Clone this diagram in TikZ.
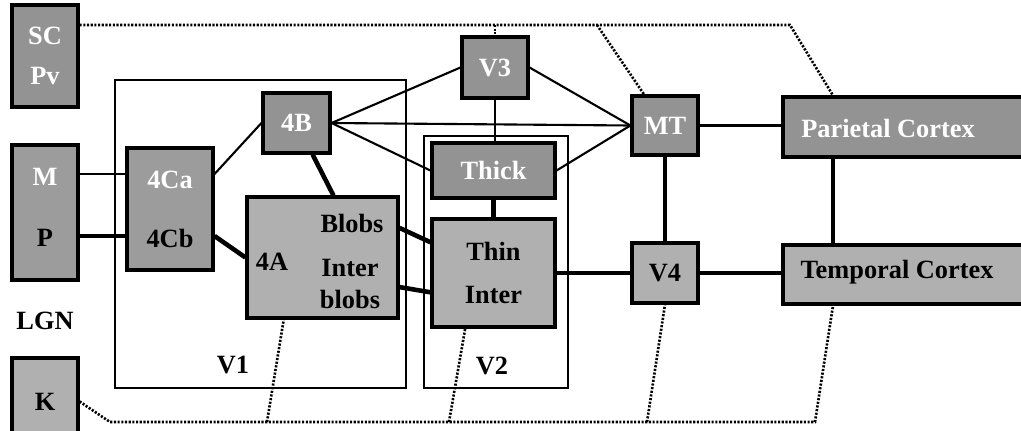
\documentclass[tikz,border=0pt]{standalone}
\usepackage{fontspec}
\setmainfont{Liberation Serif}
\usetikzlibrary{calc}

\begin{document}
\begin{tikzpicture}[x=0.02cm, y=-0.02cm,
        area/.style={rectangle, draw=black, fill=gray!85, line width=1.8pt, inner sep=0pt, text=white, align=center, font=\fontsize{15}{17}\selectfont\bfseries},
        areal/.style={area, fill=gray!62, text=black},
        lbl/.style={inner sep=0pt, font=\fontsize{15}{17}\selectfont\bfseries},
        region/.style={rectangle, draw=black, line width=0.8pt, inner sep=0pt},
        weak/.style={line width=1.2pt},
        strong/.style={line width=2.6pt},
        feedback/.style={line width=1.5pt, dash pattern=on 1.2pt off 0.9pt}
    ]
    \useasboundingbox (0,0) rectangle (1021,430);
    \clip (0,0) rectangle (1021,430);

    \node[region, minimum width=5.82cm, minimum height=6.16cm] (v1box) at (260.5,234) {};
    \node[region, minimum width=2.88cm, minimum height=5.04cm] (v2box) at (496,262) {};
    \node[lbl] (v1lbl) at (233,365) {V1};
    \node[lbl] (v2lbl) at (492,366) {V2};
    \node[lbl] (lgnlbl) at (45,321) {LGN};

    \node[area, minimum width=1.32cm, minimum height=2.04cm] (scpv) at (45,56) {SC\\[6pt]Pv};
    \node[area, fill=gray!78, minimum width=1.32cm, minimum height=2.7cm] (lgnmp) at (45,212.5) {};
    \node[lbl, text=white] (mtxt) at (45,177) {M};
    \node[lbl] (ptxt) at (45,238) {P};
    \node[areal, minimum width=1.32cm, minimum height=1.74cm] (k) at (45,401.5) {K};

    \node[area, fill=gray!78, minimum width=1.72cm, minimum height=2.44cm] (c4) at (170,209) {};
    \node[lbl, text=white] (c4a) at (170,180) {4Ca};
    \node[lbl] (c4b) at (170,238) {4Cb};
    \node[area, minimum width=1.34cm, minimum height=1.2cm] (b4) at (296.5,123) {4B};
    \node[areal, minimum width=3.02cm, minimum height=2.42cm] (a4) at (322.5,257.5) {};
    \node[lbl] (a4txt) at (272,262) {4A};
    \node[lbl] (blobs) at (352,223) {Blobs};
    \node[lbl, align=center] (interblobs) at (350,284) {Inter\\[1pt]blobs};

    \node[area, minimum width=2.46cm, minimum height=1.1cm] (thick) at (493.5,170.5) {Thick};
    \node[areal, minimum width=2.46cm, minimum height=2.16cm] (thin) at (493.5,273) {Thin\\[8pt]Inter};
    \node[area, minimum width=1.32cm, minimum height=1.22cm] (v3) at (495,67.5) {V3};
    \node[area, minimum width=1.32cm, minimum height=1.18cm] (mt) at (665,125.5) {MT};
    \node[areal, minimum width=1.32cm, minimum height=1.2cm] (v4) at (665,273) {V4};

    \node[area, minimum width=4.94cm, minimum height=1.2cm] (par) at (906.5,127) {};
    \node[lbl, text=white] (partxt) at (888,128) {Parietal Cortex};
    \node[areal, minimum width=4.94cm, minimum height=1.18cm] (tem) at (906.5,274.5) {};
    \node[lbl] (temtxt) at (897,272) {Temporal Cortex};

    \coordinate (yM) at (0,174);
    \coordinate (yP) at (0,236);
    \coordinate (pt) at (833,0);

    \draw[weak] (lgnmp.east |- yM) -- (c4.west |- yM);
    \draw[strong] (lgnmp.east |- yP) -- (c4.west |- yP);
    \draw[weak] (c4.east |- yM) -- (b4.west);
    \draw[strong] (c4.east |- yP) -- (a4.west);
    \draw[strong] (b4.-63) -- (a4.80);
    \draw[weak] (b4.east) -- (v3.west);
    \draw[weak] (b4.east) -- (mt.west);
    \draw[weak] (b4.east) -- (thick.west);
    \draw[weak] (thick.north -| v3.south) -- (v3.south);
    \draw[weak] (v3.east) -- (mt.west);
    \draw[weak] (thick.east) -- (mt.west);
    \draw[strong] (thick.south) -- (thin.north);
    \draw[strong] (a4.21) -- (thin.154);
    \draw[strong] (a4.-21) -- (thin.197);
    \draw[strong] (thin.east) -- (v4.west);
    \draw[strong] (mt.south) -- (v4.north);
    \draw[weak] (mt.east) -- (par.west |- mt.east);
    \draw[strong] (v4.east) -- (tem.west |- v4.east);
    \draw[strong] (par.south -| pt) -- (tem.north -| pt);

    \coordinate (ytop) at (0,25);
    \coordinate (tbend) at (790,25);
    \coordinate (mtfork) at (597,25);
    \coordinate (kbend) at (110,422);
    \coordinate (bbend) at (815,422);
    \coordinate (fa) at (267,422);
    \coordinate (fb) at (449,422);
    \coordinate (fc) at (647,422);

    \draw[feedback] (scpv.east |- ytop) -- (tbend) -- (par.north -| pt);
    \draw[feedback] (v3.north |- tbend) -- (v3.north);
    \draw[feedback] (mtfork) -- (mt.124);
    \draw[feedback] (k.east) -- (kbend) -- (bbend) -- (tem.south -| pt);
    \draw[feedback] (fa) -- (a4.238);
    \draw[feedback] (fb) -- (thin.243);
    \draw[feedback] (fc) -- (v4.south);
\end{tikzpicture}
\end{document}
